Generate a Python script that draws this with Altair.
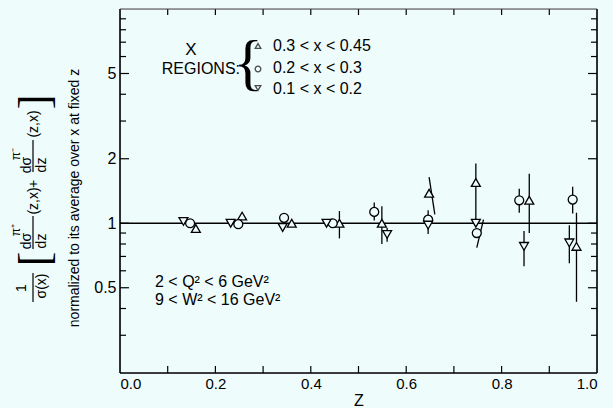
import altair as alt
import pandas as pd

BG = "#eefcfc"
FONT = "Liberation Sans"

# ---------------- data ----------------
series_labels = ["0.3 < x < 0.45", "0.2 < x < 0.3", "0.1 < x < 0.2"]
series_shapes = ["triangle-up", "circle", "triangle-down"]

# triangle-up : 0.3 < x < 0.45
z_up = [0.159, 0.256, 0.360, 0.460, 0.549, 0.648, 0.746, 0.858, 0.957]
v_up = [0.945, 1.08, 1.00, 1.00, 1.00, 1.38, 1.55, 1.28, 0.78]
lo_up = [None, None, None, 0.85, 0.80, 1.10, 1.03, 0.90, 0.43]
hi_up = [None, None, None, 1.14, 1.20, 1.64, 1.90, 1.70, 1.12]
zlo_up = [0.159, 0.256, 0.360, 0.460, 0.549, 0.660, 0.746, 0.858, 0.957]
zhi_up = [0.159, 0.256, 0.360, 0.460, 0.549, 0.648, 0.746, 0.858, 0.957]

# circle : 0.2 < x < 0.3
z_ci = [0.147, 0.248, 0.344, 0.446, 0.533, 0.646, 0.748, 0.837, 0.949]
v_ci = [1.00, 0.99, 1.06, 1.00, 1.13, 1.04, 0.90, 1.28, 1.29]
lo_ci = [None, None, None, None, 1.03, 1.00, 0.77, 1.12, 1.11]
hi_ci = [None, None, None, None, 1.25, 1.15, 1.04, 1.45, 1.48]
zlo_ci = [0.147, 0.248, 0.344, 0.446, 0.533, 0.646, 0.748, 0.837, 0.949]
zhi_ci = [0.147, 0.248, 0.344, 0.446, 0.533, 0.646, 0.762, 0.837, 0.949]

# triangle-down : 0.1 < x < 0.2
z_dn = [0.133, 0.232, 0.341, 0.433, 0.560, 0.646, 0.746, 0.847, 0.942]
v_dn = [1.02, 1.00, 0.955, 1.00, 0.887, 0.98, 1.00, 0.78, 0.81]
lo_dn = [None, None, None, None, 0.82, 0.89, None, 0.63, 0.65]
hi_dn = [None, None, None, None, 0.95, 0.98, None, 0.92, 0.98]
zlo_dn = z_dn
zhi_dn = z_dn

x_label_values = [0.0, 0.2, 0.4, 0.6, 0.8, 1.0]
x_minor_ticks = [0.1, 0.2, 0.3, 0.4, 0.5, 0.6, 0.7, 0.8, 0.9]
y_label_values = [0.5, 1, 2, 5]
y_minor_ticks = [0.3, 0.4, 0.6, 0.7, 0.8, 0.9, 3, 4, 6, 7, 8, 9]
reference_value = [1]

# ---------------- tables ----------------
rows, bars = [], []
for lab, zs, vs, los, his, zl, zh in [
    (series_labels[0], z_up, v_up, lo_up, hi_up, zlo_up, zhi_up),
    (series_labels[1], z_ci, v_ci, lo_ci, hi_ci, zlo_ci, zhi_ci),
    (series_labels[2], z_dn, v_dn, lo_dn, hi_dn, zlo_dn, zhi_dn),
]:
    for i in range(len(zs)):
        rows.append({"series": lab, "z": zs[i], "v": vs[i]})
        if los[i] is not None:
            bars.append({"series": lab, "zlo": zl[i], "zhi": zh[i], "lo": los[i], "hi": his[i]})
pts = pd.DataFrame(rows)
err = pd.DataFrame(bars)

W, H = 477, 364
xs = alt.Scale(domain=[0, 1], nice=False, zero=False)
ys = alt.Scale(type="log", domain=[0.2, 10], nice=False)

X_AXIS = alt.Axis(values=x_label_values, format=".1f", ticks=False, domain=False, grid=False,
                  labelPadding=3, title="Z", titlePadding=1, labelFontSize=15, titleFontSize=16,
                  titleFontWeight="normal", labelFont=FONT, titleFont=FONT,
                  labelColor="black", titleColor="black")
Y_AXIS = alt.Axis(values=y_label_values, format="~g", ticks=False, domain=False, grid=False,
                  labelPadding=4, title=None, labelFontSize=16, labelFont=FONT, labelColor="black")


def X(field):
    return alt.X(field, scale=xs, axis=X_AXIS)


def Y(field):
    return alt.Y(field, scale=ys, axis=Y_AXIS)


layers = []

# inward ticks
ymaj = pd.DataFrame({"v": y_label_values})
ymin = pd.DataFrame({"v": y_minor_ticks})
xmin = pd.DataFrame({"z": x_minor_ticks})
tick_style = dict(color="black", strokeWidth=1.2)
for df, ln in [(ymaj, 9), (ymin, 6)]:
    layers.append(alt.Chart(df).mark_rule(**tick_style).encode(
        y=Y("v:Q"), x=alt.value(0), x2=alt.value(ln)))
    layers.append(alt.Chart(df).mark_rule(**tick_style).encode(
        y=Y("v:Q"), x=alt.value(W - ln), x2=alt.value(W)))
layers.append(alt.Chart(xmin).mark_rule(**tick_style).encode(
    x=X("z:Q"), y=alt.value(H - 7), y2=alt.value(H)))
layers.append(alt.Chart(xmin).mark_rule(**tick_style).encode(
    x=X("z:Q"), y=alt.value(0), y2=alt.value(6)))

# frame
one = alt.Data(values=[{}])
frame_style = dict(color="black", strokeWidth=1.6)
layers.append(alt.Chart(one).mark_rule(**frame_style).encode(x=alt.value(0), x2=alt.value(0), y=alt.value(0), y2=alt.value(H)))
layers.append(alt.Chart(one).mark_rule(**frame_style).encode(x=alt.value(W), x2=alt.value(W), y=alt.value(0), y2=alt.value(H)))
layers.append(alt.Chart(one).mark_rule(**frame_style).encode(x=alt.value(0), x2=alt.value(W), y=alt.value(H), y2=alt.value(H)))
layers.append(alt.Chart(one).mark_rule(color="#444", strokeWidth=1.2).encode(x=alt.value(0), x2=alt.value(W), y=alt.value(0), y2=alt.value(0)))

# reference line at 1
layers.append(alt.Chart(pd.DataFrame({"v": reference_value})).mark_rule(color="black", strokeWidth=1.3).encode(
    y=Y("v:Q")))

# error bars
layers.append(alt.Chart(err).mark_rule(color="black", strokeWidth=1.3).encode(
    x=X("zlo:Q"), x2="zhi:Q", y=Y("lo:Q"), y2="hi:Q"))

# markers
layers.append(alt.Chart(pts).mark_point(filled=True, fill=BG, stroke="black", strokeWidth=1.3,
                                        size=80, opacity=1, fillOpacity=1).encode(
    x=X("z:Q"), y=Y("v:Q"),
    shape=alt.Shape("series:N", scale=alt.Scale(domain=series_labels, range=series_shapes), legend=None)))

# legend markers (inside the plot, as in the figure)
leg = pd.DataFrame({"series": series_labels, "py": [37, 60, 79]})
layers.append(alt.Chart(leg).mark_point(filled=False, stroke="black", strokeWidth=1.3, size=32).encode(
    x=alt.value(138), y=alt.Y("py:Q", scale=None, axis=None),
    shape=alt.Shape("series:N", scale=alt.Scale(domain=series_labels, range=series_shapes), legend=None)))


def txt(text, x, y, size=16, align="left", angle=0, font=FONT, weight="normal"):
    return alt.Chart(one).mark_text(
        text=text, align=align, baseline="middle", fontSize=size, angle=angle,
        font=font, fontWeight=weight, color="black").encode(x=alt.value(x), y=alt.value(y))


layers.append(txt(series_labels[0], 153, 37))
layers.append(txt(series_labels[1], 153, 59))
layers.append(txt(series_labels[2], 153, 80))
layers.append(txt("X", 71, 41, size=17, align="center"))
layers.append(txt("REGIONS:", 120, 60, size=16, align="right"))
layers.append(txt("{", 128, 55, size=62, align="center", font="Liberation Sans Narrow"))
layers.append(txt("2 < Q² <  6 GeV²", 35, 273, size=16))
layers.append(txt("9 < W² < 16 GeV²", 35, 291, size=16))

# y-axis title: formula line
A = 270
layers.append(txt("1", -98, 279, size=14, align="center", angle=A))
layers.append(txt("σ(x)", -78, 277, size=14, align="center", angle=A))
layers.append(txt("[", -84, 250, size=44, align="center", angle=A, font="Liberation Sans Narrow"))
layers.append(txt("dσ", -93, 232, size=14, align="center", angle=A))
layers.append(txt("π⁺", -104, 221, size=12, align="center", angle=A))
layers.append(txt("dz", -78, 232, size=14, align="center", angle=A))
layers.append(txt("(z,x)", -86, 192, size=14, align="center", angle=A))
layers.append(txt("+", -86, 175, size=14, align="center", angle=A))
layers.append(txt("dσ", -93, 156, size=14, align="center", angle=A))
layers.append(txt("π⁻", -104, 145, size=12, align="center", angle=A))
layers.append(txt("dz", -78, 156, size=14, align="center", angle=A))
layers.append(txt("(z,x)", -86, 115, size=14, align="center", angle=A))
layers.append(txt("]", -84, 93, size=44, align="center", angle=A, font="Liberation Sans Narrow"))
for y1, y2 in [(264, 293), (207, 240), (131, 163)]:
    layers.append(alt.Chart(one).mark_rule(color="black", strokeWidth=1.2).encode(
        x=alt.value(-87), x2=alt.value(-87), y=alt.value(y1), y2=alt.value(y2)))
layers.append(txt("normalized to its average over x at fixed z", -45, 189, size=14, align="center", angle=A))

chart = alt.layer(*layers).properties(
    width=W, height=H, background=BG,
    padding={"left": 120, "top": 9, "right": 16, "bottom": 35},
    autosize=alt.AutoSizeParams(type="none"),
).configure_view(stroke=None, fill=BG).configure(font=FONT)

chart.save("out.html", embed_options={"renderer": "svg", "actions": False})
